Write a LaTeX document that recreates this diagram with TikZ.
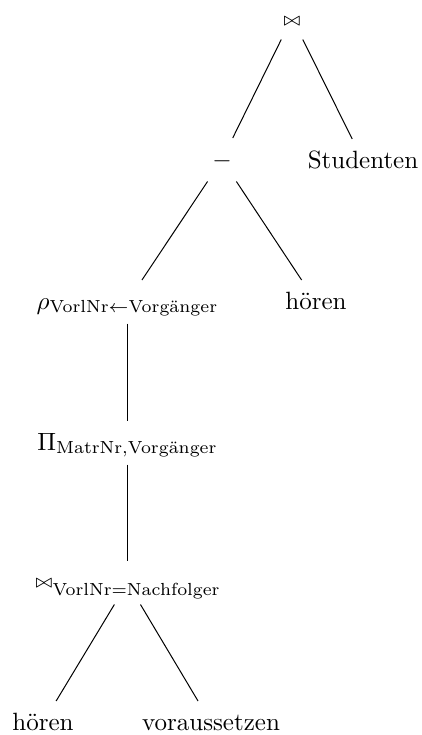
\documentclass[tikz,border=0pt]{standalone}
\usepackage{amsmath}
\begin{document}
\begin{tikzpicture}[x=0.4pt,y=-0.4pt,
  op/.style={inner sep=4.6pt, outer sep=0pt, text height=7pt, text depth=1.2pt, anchor=base},
  edge/.style={draw=black, line width=0.4pt}]
\useasboundingbox (0,0) rectangle (421,735);
\node[op] (j1) at (292,25) {$\scriptstyle\bowtie$};
\node[op] (mi) at (222,167) {$-$};
\node[op] (st) at (363,168) {Studenten};
\node[op] (rh) at (127.5,309) {$\rho_{\text{VorlNr}\leftarrow\text{Vorgänger}}$};
\node[op] (h1) at (316,309) {hören};
\node[op] (pi) at (127.5,450) {$\Pi_{\text{MatrNr,Vorgänger}}$};
\node[op] (j2) at (127.5,590) {\raisebox{1.2pt}{$\scriptstyle\bowtie$}\raisebox{-2pt}{$\scriptstyle\text{VorlNr}=\text{Nachfolger}$}};
\node[op] (h2) at (43,730) {hören};
\node[op] (vo) at (211,730) {voraussetzen};
\draw[edge] (j1) -- (mi);
\draw[edge] (j1) -- (st);
\draw[edge] (mi) -- (rh);
\draw[edge] (mi) -- (h1);
\draw[edge] (rh) -- (pi);
\draw[edge] (pi) -- (j2);
\draw[edge] (j2) -- (h2);
\draw[edge] (j2) -- (vo);
\end{tikzpicture}
\end{document}
